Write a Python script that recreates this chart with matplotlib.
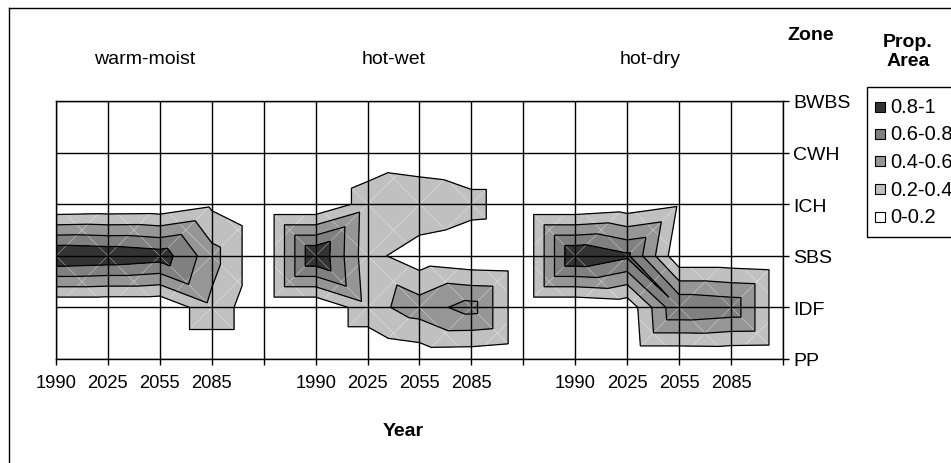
import numpy as np
import matplotlib
matplotlib.use('Agg')
import matplotlib.pyplot as plt
import matplotlib.tri as mtri
from matplotlib.patches import Rectangle
from matplotlib.lines import Line2D
from matplotlib.collections import LineCollection

plt.rcParams['font.family'] = ['Liberation Sans', 'DejaVu Sans']

years = ['1990', '2025', '2055', '2085']
zones = ['PP', 'IDF', 'SBS', 'ICH', 'CWH', 'BWBS']
regions = ['warm-moist', 'hot-wet', 'hot-dry']

# proportion of area; rows = zones PP..BWBS, cols = years
warm_moist = [
    [0.00, 0.00, 0.00, 0.00],   # PP
    [0.00, 0.00, 0.00, 0.35],   # IDF
    [1.00, 0.97, 0.91, 0.48],   # SBS
    [0.00, 0.02, 0.03, 0.16],   # ICH
    [0.00, 0.00, 0.00, 0.00],   # CWH
    [0.00, 0.00, 0.00, 0.00],   # BWBS
]
hot_wet = [
    [0.00, 0.00, 0.06, 0.05],
    [0.00, 0.32, 0.50, 0.68],
    [1.00, 0.27, 0.08, 0.02],
    [0.00, 0.29, 0.38, 0.28],
    [0.00, 0.085, 0.04, 0.00],
    [0.00, 0.00, 0.00, 0.00],
]
hot_dry = [
    [0.00, 0.00, 0.00, 0.01],
    [0.00, 0.05, 0.79, 0.74],
    [1.00, 0.84, 0.03, 0.03],
    [0.00, 0.06, 0.17, 0.00],
    [0.00, 0.00, 0.00, 0.00],
    [0.00, 0.00, 0.00, 0.00],
]

levels = [0, 0.2, 0.4, 0.6, 0.8, 1.0]
level_labels = ['0-0.2', '0.2-0.4', '0.4-0.6', '0.6-0.8', '0.8-1']
level_colors = ['#ffffff', '#c0c0c0', '#969696', '#808080', '#333333']

W, H = 951, 464
def fx(x): return x / W
def fy(y): return 1 - y / H

# one long grid: 4 years + an empty column per region (Excel layout)
ncol = 5 * len(regions)
grid = np.zeros((len(zones), ncol))
for p, panel in enumerate([warm_moist, hot_wet, hot_dry]):
    grid[:, p*5:p*5+4] = np.array(panel)

# Excel-like surface: each cell split in 4 triangles around its centre
ny, nx = grid.shape
xs, ys, zs = [], [], []
for k in range(ny):
    for j in range(nx):
        xs.append(j); ys.append(k); zs.append(grid[k, j])
tris = []
for k in range(ny - 1):
    for j in range(nx - 1):
        a, b = grid[k, j], grid[k, j+1]
        c, d = grid[k+1, j], grid[k+1, j+1]
        ci = len(xs)
        xs.append(j + 0.5); ys.append(k + 0.5); zs.append(max((a + d) / 2, (b + c) / 2))
        n00, n10 = k*nx + j, k*nx + j + 1
        n01, n11 = (k+1)*nx + j, (k+1)*nx + j + 1
        tris += [[n00, n10, ci], [n10, n11, ci], [n11, n01, ci], [n01, n00, ci]]
tri = mtri.Triangulation(xs, ys, tris)

fig = plt.figure(figsize=(W/100, H/100), dpi=100)
ax = fig.add_axes([fx(56), fy(360), (783-56)/W, (360-102)/H])

ax.tricontourf(tri, zs, levels=levels, colors=level_colors, zorder=1)

# faint seams of the triangles
segs = []
for k in range(ny - 1):
    for j in range(nx - 1):
        segs.append([(j, k), (j+1, k+1)])
        segs.append([(j+1, k), (j, k+1)])
ax.add_collection(LineCollection(segs, colors='white', linewidths=0.5, alpha=0.45, zorder=1.5))

ax.tricontour(tri, zs, levels=levels[1:-1], colors='black', linewidths=0.9, zorder=2)

ax.set_xlim(0, nx - 1)
ax.set_ylim(0, ny - 1)
ax.set_xticks(range(nx))
ax.set_xticklabels((years + ['']) * len(regions), fontsize=13.2)
ax.set_yticks(range(ny))
ax.set_yticklabels(zones, fontsize=14)
ax.yaxis.tick_right()
ax.tick_params(axis='x', direction='out', length=4, width=1, pad=7)
ax.tick_params(axis='y', direction='out', length=4.5, width=1, pad=3, left=False)
ax.grid(True, color='black', linewidth=1.0)
ax.set_axisbelow(False)
for s in ax.spines.values():
    s.set_color('black')
    s.set_linewidth(1.0)

# headers
for name, x in zip(regions, [145, 394, 650]):
    fig.text(fx(x), fy(60), name, ha='center', va='center', fontsize=14)
fig.text(fx(811), fy(35), 'Zone', ha='center', va='center', fontsize=14, fontweight='bold')
fig.text(fx(908), fy(52), 'Prop.\nArea', ha='center', va='center', fontsize=14,
         fontweight='bold', linespacing=1.12)
fig.text(fx(403), fy(432), 'Year', ha='center', va='center', fontsize=14, fontweight='bold')

# legend box (runs off the right edge like the original)
fig.patches.append(Rectangle((fx(867), fy(238)), fx(100), (238-88)/H, fill=False,
                             edgecolor='black', linewidth=1, transform=fig.transFigure))
rows_y = [107.5, 134.5, 162, 190, 218]
for yy, lab, col in zip(rows_y, level_labels[::-1], level_colors[::-1]):
    fig.patches.append(Rectangle((fx(875), fy(yy + 5)), 10/W, 10/H, facecolor=col,
                                 edgecolor='black', linewidth=0.8, transform=fig.transFigure))
    fig.text(fx(890), fy(yy), lab, ha='left', va='center', fontsize=14.5)

# chart frame
fig.lines.append(Line2D([fx(8.5), fx(8.5)], [fy(9), 0], color='black', lw=1, transform=fig.transFigure))
fig.lines.append(Line2D([fx(8.5), 1], [fy(9), fy(9)], color='black', lw=1, transform=fig.transFigure))

fig.savefig('out.png', dpi=100)
